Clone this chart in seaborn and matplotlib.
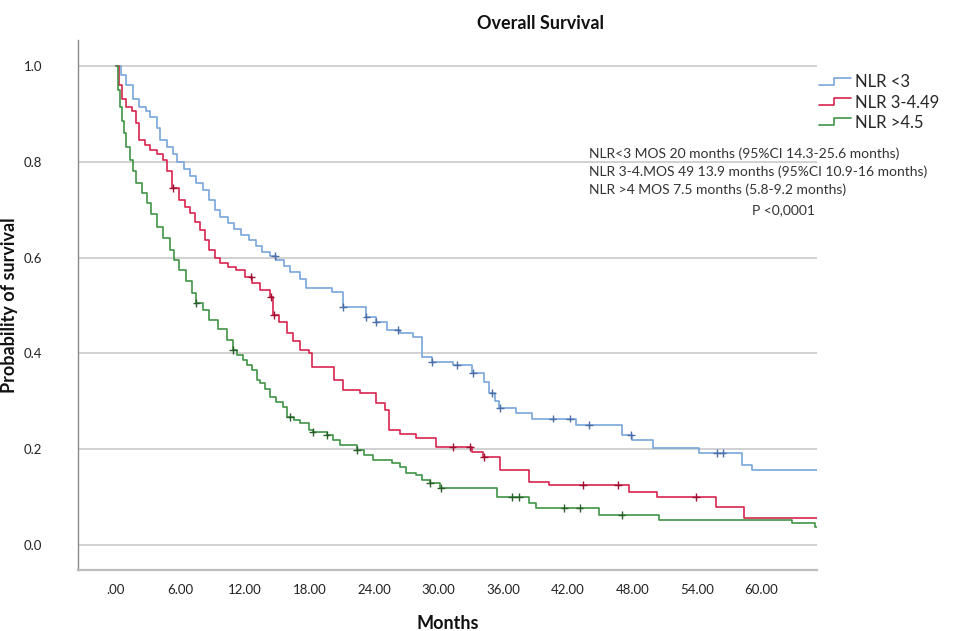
import numpy as np
import pandas as pd
import matplotlib
matplotlib.use("Agg")
import matplotlib.pyplot as plt
from matplotlib.lines import Line2D
from matplotlib.legend_handler import HandlerBase
import seaborn as sns

sns.set_theme(style="white")
plt.rcParams['font.family'] = ['Lato', 'DejaVu Sans']

# step points (months, survival)
t_lt3 = [0, 0.5, 1.0, 1.6, 2.2, 2.8, 3.2, 3.8, 4.1, 4.8, 5.3, 5.7, 6.3, 6.9, 7.5, 8.1, 8.7, 9.2,
         9.7, 10.4, 11.0, 11.6, 12.4, 13.0, 13.6, 14.3, 14.9, 15.6, 16.2, 17.1, 17.7, 20.1, 21.1,
         23.3, 24.2, 25.2, 26.4, 27.6, 28.5, 29.4, 31.3, 33.1, 34.2, 34.7, 35.2, 35.6, 37.2, 38.7,
         42.8, 47.0, 48.0, 49.9, 54.2, 58.2, 59.1, 65.2]
s_lt3 = [1.0, 0.98, 0.96, 0.93, 0.915, 0.905, 0.894, 0.87, 0.845, 0.83, 0.815, 0.80, 0.785, 0.77,
         0.756, 0.74, 0.72, 0.70, 0.685, 0.672, 0.66, 0.648, 0.637, 0.625, 0.612, 0.603, 0.595,
         0.582, 0.57, 0.555, 0.536, 0.528, 0.497, 0.476, 0.466, 0.449, 0.443, 0.434, 0.392, 0.382,
         0.376, 0.359, 0.34, 0.317, 0.30, 0.286, 0.276, 0.264, 0.25, 0.23, 0.219, 0.203, 0.192,
         0.167, 0.157, 0.157]

t_mid = [0, 0.3, 0.6, 1.0, 1.5, 1.9, 2.2, 2.7, 3.2, 3.8, 4.4, 4.8, 5.2, 5.9, 6.4, 6.9, 7.4, 7.8,
         8.3, 8.7, 9.2, 9.7, 10.4, 11.2, 12.0, 12.7, 13.4, 14.3, 14.6, 15.2, 15.9, 16.5, 17.1, 18.0,
         18.2, 20.3, 21.1, 22.7, 24.2, 25.0, 25.4, 26.4, 27.9, 29.8, 33.1, 34.1, 35.7, 38.4, 40.3,
         47.7, 50.3, 55.8, 58.4, 65.2]
s_mid = [1.0, 0.96, 0.93, 0.915, 0.905, 0.88, 0.845, 0.835, 0.825, 0.815, 0.804, 0.78, 0.745,
         0.72, 0.705, 0.693, 0.675, 0.658, 0.637, 0.616, 0.60, 0.589, 0.58, 0.574, 0.56, 0.547,
         0.532, 0.518, 0.48, 0.465, 0.443, 0.425, 0.407, 0.40, 0.372, 0.345, 0.324, 0.317, 0.296,
         0.282, 0.24, 0.232, 0.223, 0.205, 0.194, 0.184, 0.157, 0.132, 0.125, 0.111, 0.10, 0.08,
         0.056, 0.056]

t_gt45 = [0, 0.2, 0.4, 0.6, 0.8, 1.0, 1.3, 1.6, 1.9, 2.4, 2.9, 3.3, 3.8, 4.4, 5.0, 5.4, 5.9, 6.5,
          7.1, 7.5, 8.1, 8.7, 9.5, 10.3, 10.9, 11.3, 11.8, 12.2, 12.7, 13.1, 13.4, 13.9, 14.3, 14.9,
          15.5, 15.9, 16.6, 17.1, 18.0, 18.3, 19.6, 20.2, 20.8, 22.4, 23.1, 23.9, 25.7, 26.4, 27.0,
          27.9, 28.5, 29.2, 30.1, 35.4, 38.4, 39.1, 44.9, 50.5, 62.8, 65.0, 65.2]
s_gt45 = [1.0, 0.95, 0.915, 0.885, 0.86, 0.83, 0.804, 0.78, 0.756, 0.735, 0.714, 0.69, 0.664,
          0.64, 0.616, 0.595, 0.574, 0.55, 0.526, 0.505, 0.49, 0.47, 0.45, 0.428, 0.407, 0.396,
          0.386, 0.375, 0.365, 0.344, 0.338, 0.325, 0.309, 0.298, 0.288, 0.267, 0.262, 0.255, 0.24,
          0.236, 0.23, 0.22, 0.209, 0.198, 0.188, 0.177, 0.171, 0.163, 0.15, 0.146, 0.136, 0.129,
          0.119, 0.10, 0.088, 0.077, 0.063, 0.052, 0.046, 0.038, 0.038]

# censoring times
c_lt3 = [14.8, 21.1, 23.3, 24.2, 26.2, 29.4, 31.7, 33.2, 35.0, 35.7, 40.6, 42.2, 44.0, 47.9, 55.9, 56.4]
c_mid = [5.3, 12.6, 14.4, 14.7, 31.3, 32.9, 34.2, 43.4, 46.7, 53.9]
c_gt45 = [7.5, 10.9, 16.2, 18.3, 19.6, 22.4, 29.2, 30.2, 36.8, 37.5, 41.7, 43.1, 47.0]

groups = ['NLR <3', 'NLR 3-4.49', 'NLR >4.5']
colors = ['#78a6dc', '#d8254e', '#3f9444']
mark_colors = ['#4c6fa8', '#9c1230', '#2a5e2a']

xticks = [0, 6, 12, 18, 24, 30, 36, 42, 48, 54, 60]
xtick_labels = ['.00', '6.00', '12.00', '18.00', '24.00', '30.00', '36.00', '42.00', '48.00', '54.00', '60.00']
yticks = [0.0, 0.2, 0.4, 0.6, 0.8, 1.0]

notes = ['NLR<3 MOS 20 months (95%CI 14.3-25.6 months)',
         'NLR 3-4.MOS 49 13.9 months (95%CI 10.9-16 months)',
         'NLR >4 MOS 7.5 months (5.8-9.2 months)']
p_note = 'P <0,0001'

curves = [(t_lt3, s_lt3), (t_mid, s_mid), (t_gt45, s_gt45)]
cens = [c_lt3, c_mid, c_gt45]

df = pd.concat([pd.DataFrame({'Months': t, 'Survival': s, 'Group': g})
                for (t, s), g in zip(curves, groups)], ignore_index=True)

rows = []
for (t, s), c, g in zip(curves, cens, groups):
    idx = np.searchsorted(t, c, side='right') - 1
    rows.append(pd.DataFrame({'Months': c, 'Survival': np.asarray(s)[idx], 'Group': g}))
cdf = pd.concat(rows, ignore_index=True)


class StepHandler(HandlerBase):
    # little step-shaped legend key
    def create_artists(self, legend, orig, xd, yd, width, height, fontsize, trans):
        xs = np.array([0, 0.45, 0.45, 0.75, 0.75, 1.0]) * width - xd
        ys = np.array([0.2, 0.2, 0.8, 0.8, 0.8, 0.8]) * height - yd
        ln = Line2D(xs, ys, color=orig.get_color(), lw=1.2, transform=trans)
        return [ln]


fig = plt.figure(figsize=(9.54, 6.31), dpi=100)
ax = fig.add_axes([0.0818, 0.0967, 0.775, 0.84])

sns.lineplot(data=df, x='Months', y='Survival', hue='Group', hue_order=groups,
             palette=colors, drawstyle='steps-post', estimator=None, sort=False,
             lw=1.2, legend=False, ax=ax)
sns.scatterplot(data=cdf, x='Months', y='Survival', hue='Group', hue_order=groups,
                palette=mark_colors, marker='+', s=30, linewidth=1.0, legend=False, ax=ax, zorder=3)

ax.set_xlim(-3.5, 65.2)
ax.set_ylim(-0.052, 1.054)
ax.set_xticks(xticks)
ax.set_xticklabels(xtick_labels)
ax.set_yticks(yticks)
ax.set_yticklabels(['%.1f' % v for v in yticks])
ax.tick_params(length=0, labelsize=9.5, colors='#222222')
ax.tick_params(axis='x', pad=10)
ax.tick_params(axis='y', pad=26)
ax.yaxis.grid(True, color='#c9c9c9', lw=1.2)
ax.set_axisbelow(True)
for side in ['top', 'right']:
    ax.spines[side].set_visible(False)
ax.spines['left'].set_color('#8a8a8a')
ax.spines['left'].set_linewidth(1.0)
ax.spines['bottom'].set_color('#bdbdbd')
ax.spines['bottom'].set_linewidth(1.6)

ax.set_xlabel('Months', fontsize=13, fontweight='bold', labelpad=14, color='#111111')
ax.set_ylabel('Probability of survival', fontsize=13, fontweight='bold', labelpad=4, color='#111111')
fig.text(0.567, 0.963, 'Overall Survival', ha='center', va='center', fontsize=13,
         fontweight='bold', color='#111111')

handles = [Line2D([], [], color=c) for c in colors]
fig.legend(handles, groups, handler_map={Line2D: StepHandler()}, loc='upper left',
           bbox_to_anchor=(0.859, 0.882), frameon=False, fontsize=12, handlelength=1.9,
           handletextpad=0.25, labelspacing=0.25, borderaxespad=0, borderpad=0)

for i, line in enumerate(notes):
    fig.text(0.617, 0.757 - i * 0.0285, line, fontsize=10, color='#333333', va='center')
fig.text(0.788, 0.667, p_note, fontsize=10, color='#333333', va='center')

fig.savefig('out.png', dpi=100)
